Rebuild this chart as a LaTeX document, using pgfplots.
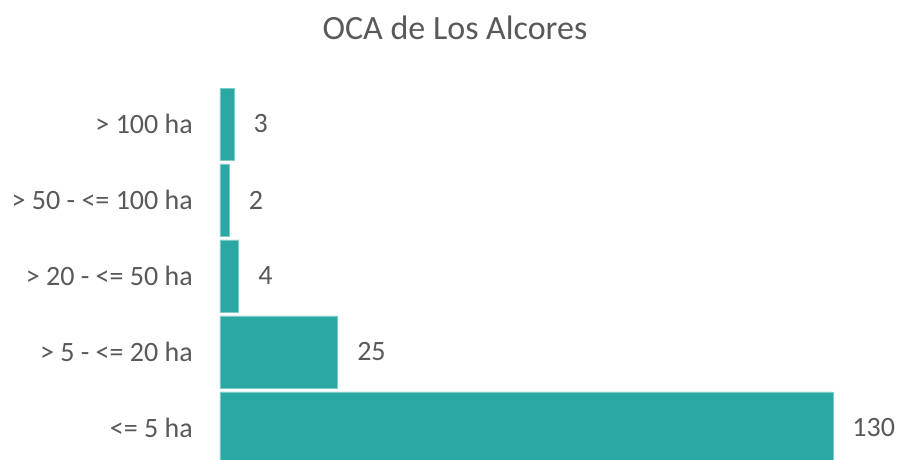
\documentclass[border=0pt]{standalone}
\usepackage{fontspec}
\setmainfont{Carlito}
\usepackage{pgfplots}
\pgfplotsset{compat=1.18}
\definecolor{barteal}{HTML}{29A8A4}
\definecolor{txtgray}{HTML}{595959}
\begin{document}
\begin{tikzpicture}
\useasboundingbox (-220pt,0pt) rectangle (680pt,459pt);
\begin{axis}[
  at={(0pt,0pt)}, anchor=south west,
  scale only axis, width=680pt, height=373pt,
  xbar, bar width=72pt,
  xmin=0, xmax=144.2,
  ymin=-0.408, ymax=4.5,
  axis line style={draw=none},
  major tick length=0pt,
  xtick=\empty,
  ytick={0,1,2,3,4},
  yticklabels={{<= 5 ha},{> 5 - <= 20 ha},{> 20 - <= 50 ha},{> 50 - <= 100 ha},{> 100 ha}},
  y tick label style={font=\fontsize{28}{32}\selectfont, text=txtgray, inner sep=0pt, xshift=-27pt},
  /pgf/number format/assume math mode=true,
  nodes near coords,
  every node near coord/.append style={font=\fontsize{28}{32}\selectfont, text=txtgray, anchor=west, inner sep=0pt, xshift=19pt},
  clip=true,
]
\addplot[fill=barteal, draw=barteal!60!white, line width=0.8pt] coordinates {(130,0) (25,1) (4,2) (2,3) (3,4)};
\end{axis}
\node[font=\fontsize{34}{40}\selectfont, text=txtgray] at (235pt,431pt) {OCA de Los Alcores};
\end{tikzpicture}
\end{document}
